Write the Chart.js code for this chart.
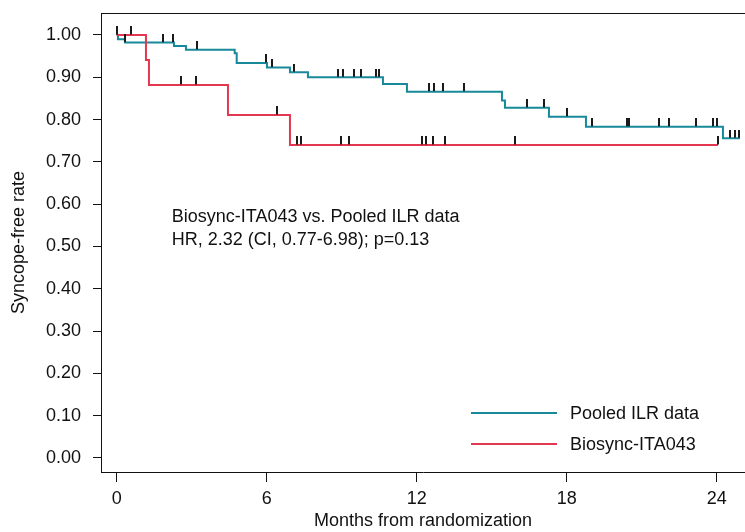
<!DOCTYPE html>
<html>
<head>
<meta charset="utf-8">
<script src="https://cdn.jsdelivr.net/npm/chart.js@4.4.1/dist/chart.umd.min.js"></script>
<style>
  html, body { margin: 0; padding: 0; background: #fff; }
  #km { display: block; }
</style>
</head>
<body>
<canvas id="km" width="745" height="532"></canvas>
<script>
// Kaplan-Meier curves (months, syncope-free rate)
const pooledTimes = [0, 0.05, 0.33, 2.29, 2.77, 4.72, 4.80, 6.01, 6.93, 7.65, 10.65, 11.61, 15.41, 15.53, 17.29, 18.77, 24.25, 24.93];
const pooledRates = [1.00, 0.990, 0.982, 0.974, 0.965, 0.957, 0.934, 0.923, 0.912, 0.900, 0.884, 0.866, 0.845, 0.828, 0.807, 0.783, 0.756, 0.756];
const pooledCensored = [0, 0.33, 1.85, 2.25, 3.21, 5.96, 6.21, 7.09, 8.85, 9.05, 9.49, 9.77, 10.37, 10.49, 12.49, 12.69, 13.05, 13.89,
  16.41, 17.09, 18.01, 19.01, 20.41, 20.49, 21.69, 22.09, 23.17, 23.85, 24.01, 24.53, 24.73, 24.89];

const biosyncTimes = [0, 1.17, 1.29, 4.45, 6.93, 24.05];
const biosyncRates = [1.00, 0.941, 0.882, 0.811, 0.740, 0.740];
const biosyncCensored = [0, 0.57, 2.57, 3.17, 6.41, 7.21, 7.37, 8.97, 9.29, 12.21, 12.37, 12.65, 13.13, 15.93, 24.05];

const xTicks = [0, 6, 12, 18, 24];
const yTicks = [0, 0.1, 0.2, 0.3, 0.4, 0.5, 0.6, 0.7, 0.8, 0.9, 1.0];

const seriesNames = ['Pooled ILR data', 'Biosync-ITA043'];
const noteLines = ['Biosync-ITA043 vs. Pooled ILR data', 'HR, 2.32 (CI, 0.77-6.98); p=0.13'];

const tealColor = '#17899a';
const redColor = '#e2374e';
const fontFamily = '"Liberation Sans", Arial, Helvetica, sans-serif';

// step-function value at time t
function rateAt(times, rates, t) {
    let r = rates[0];
    for (let i = 0; i < times.length; i++) {
        if (times[i] <= t) r = rates[i];
    }
    return r;
}

function toPoints(xs, ys) {
    return xs.map((x, i) => ({ x: x, y: ys[i] }));
}

// small vertical tick used as censor mark (sits on top of the curve)
const tickMark = document.createElement('canvas');
tickMark.width = 2;
tickMark.height = 17;
const tctx = tickMark.getContext('2d');
tctx.fillStyle = '#1a1a1a';
tctx.fillRect(0, 0, 2, 8);

const pooledCensorPts = pooledCensored.map(t => ({ x: t, y: rateAt(pooledTimes, pooledRates, t) }));
const biosyncCensorPts = biosyncCensored.map(t => ({ x: t, y: rateAt(biosyncTimes, biosyncRates, t) }));

// top frame line, legend and annotation drawn inside the plot
const overlayPlugin = {
    id: 'overlay',
    afterDraw(chart) {
        const ctx = chart.ctx;
        const area = chart.chartArea;
        const xs = chart.scales.x;
        const ys = chart.scales.y;
        ctx.save();
        ctx.strokeStyle = '#111';
        ctx.lineWidth = 1;
        ctx.beginPath();
        ctx.moveTo(area.left, area.top + 0.5);
        ctx.lineTo(area.right, area.top + 0.5);
        ctx.stroke();

        ctx.font = '18px ' + fontFamily;
        ctx.fillStyle = '#111';
        ctx.textBaseline = 'alphabetic';
        ctx.textAlign = 'left';
        ctx.fillText(noteLines[0], xs.getPixelForValue(2.2), ys.getPixelForValue(0.558));
        ctx.fillText(noteLines[1], xs.getPixelForValue(2.2), ys.getPixelForValue(0.504));

        const colors = [tealColor, redColor];
        const rowY = [413, 444];
        ctx.lineWidth = 2;
        ctx.textBaseline = 'middle';
        seriesNames.forEach((name, i) => {
            ctx.strokeStyle = colors[i];
            ctx.beginPath();
            ctx.moveTo(471, rowY[i]);
            ctx.lineTo(557, rowY[i]);
            ctx.stroke();
            ctx.fillText(name, 570, rowY[i] + 1);
        });
        ctx.restore();
    }
};

const noPad = s => { s.paddingLeft = 0; s.paddingRight = 0; s.paddingTop = 0; s.paddingBottom = 0; };

const ctx = document.getElementById('km').getContext('2d');
const kmChart = new Chart(ctx, {
    type: 'line',
    data: {
        datasets: [
            {
                type: 'scatter',
                data: biosyncCensorPts,
                pointStyle: tickMark,
                showLine: false,
                clip: false
            },
            {
                type: 'scatter',
                data: pooledCensorPts,
                pointStyle: tickMark,
                showLine: false,
                clip: false
            },
            {
                label: seriesNames[1],
                data: toPoints(biosyncTimes, biosyncRates),
                borderColor: redColor,
                borderWidth: 2,
                stepped: 'before',
                pointRadius: 0,
                fill: false,
                clip: false
            },
            {
                label: seriesNames[0],
                data: toPoints(pooledTimes, pooledRates),
                borderColor: tealColor,
                borderWidth: 2,
                stepped: 'before',
                pointRadius: 0,
                fill: false,
                clip: false
            }
        ]
    },
    options: {
        responsive: false,
        animation: false,
        devicePixelRatio: 1,
        layout: { padding: { top: 13, left: 0, right: 0, bottom: 0 }, autoPadding: false },
        plugins: {
            legend: { display: false },
            tooltip: { enabled: false }
        },
        scales: {
            x: {
                type: 'linear',
                min: -0.628,
                max: 25.132,
                afterBuildTicks: s => { s.ticks = xTicks.map(v => ({ value: v })); },
                afterFit: s => { s.height = 60; noPad(s); },
                grid: { drawOnChartArea: false, drawTicks: true, tickLength: 10, color: '#111', lineWidth: 1 },
                border: { display: true, color: '#111', width: 1 },
                ticks: { color: '#111', font: { family: fontFamily, size: 18 }, padding: 6, maxRotation: 0 },
                title: {
                    display: true,
                    text: 'Months from randomization',
                    color: '#111',
                    font: { family: fontFamily, size: 18 },
                    padding: { top: 0, bottom: 0 }
                }
            },
            y: {
                min: -0.0331,
                max: 1.052,
                afterBuildTicks: s => { s.ticks = yTicks.map(v => ({ value: v })); },
                afterFit: s => { s.width = 101; noPad(s); },
                grid: { drawOnChartArea: false, drawTicks: true, tickLength: 8, color: '#111', lineWidth: 1 },
                border: { display: true, color: '#111', width: 1 },
                ticks: {
                    color: '#111',
                    font: { family: fontFamily, size: 18 },
                    padding: 12,
                    callback: v => Number(v).toFixed(2)
                },
                title: {
                    display: true,
                    text: 'Syncope-free rate',
                    color: '#111',
                    font: { family: fontFamily, size: 18 },
                    padding: { top: 8, bottom: 0 }
                }
            }
        }
    },
    plugins: [overlayPlugin]
});
</script>
</body>
</html>
